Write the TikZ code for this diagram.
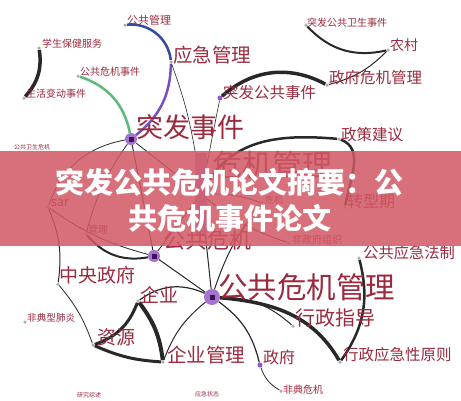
\documentclass[tikz,border=0pt]{standalone}
\usepackage{fontspec}
\newfontfamily\cjk{Noto Sans CJK SC}
\usetikzlibrary{positioning}

\definecolor{lblred}{RGB}{155,42,62}
\definecolor{linegray}{RGB}{40,40,40}
\definecolor{blueline}{RGB}{55,75,165}
\definecolor{purpleline}{RGB}{120,80,190}
\definecolor{greenline}{RGB}{95,185,125}
\definecolor{hubdark}{RGB}{60,20,80}
\definecolor{hubglow}{RGB}{150,90,200}
\definecolor{banner}{RGB}{208,88,100}

\begin{document}
\begin{tikzpicture}[x=1pt, y=-1pt,
    lbl/.style={anchor=west, inner sep=0pt, text=lblred, font=\cjk\fontsize{#1pt}{#1pt}\selectfont},
    lbl/.default=10,
    dot/.style={circle, fill=gray!65, inner sep=0pt, minimum size=3.5pt},
    pdot/.style={circle, fill=hubglow, inner sep=0pt, minimum size=5pt},
    hub/.style={circle, fill=hubglow!85, inner sep=0pt, minimum size=#1,
      path picture={\fill[hubdark] ([shift={(-2.5pt,-2.5pt)}]path picture bounding box.center) rectangle ++(5pt,5pt);}},
    hub/.default=12pt,
    link/.style={draw=linegray, line width=#1},
    link/.default=0.8pt]
      \useasboundingbox (0,0) rectangle (461,400);
      \fill[white] (0,0) rectangle (461,400);

      % Nodi centrali
      \node[hub] (h-tfsj) at (131,139) {};
      \node[hub] (h-ggwj) at (154,256) {};
      \node[hub=16pt] (h-ggwjgl) at (212,297) {};
      \node[rectangle, rounded corners=3pt, draw=hubdark!70, fill=hubglow!60,
        minimum width=11pt, minimum height=82pt] (h-wjgl) at (201,194) {};

      % Estremi
      \node[dot] (p-gggl) at (125,25) {};
      \node[dot] (p-xsbj) at (39,48) {};
      \node[dot] (p-shbd) at (24,98) {};
      \node[dot] (p-ggwjsj) at (78,76) {};
      \node[dot] (p-yjgl) at (171,62) {};
      \node[dot] (p-tfgwsj) at (306,25) {};
      \node[dot] (p-nc) at (388,50) {};
      \node[dot] (p-zfwjgl) at (327,85) {};
      \node[pdot] (p-tfggsj) at (220,98) {};
      \node[dot] (p-zcjy) at (339,139) {};
      \node[dot] (p-zxq) at (345,207) {};
      \node[dot] (p-wj) at (262,203) {};
      \node[dot] (p-fzfzz) at (289,243) {};
      \node[dot] (p-ggyjfz) at (359,258) {};
      \node[dot] (p-sar) at (48,207) {};
      \node[dot] (p-gl) at (86,234) {};
      \node[dot] (p-zyzf) at (58,284) {};
      \node[dot] (p-fdxfy) at (25,322) {};
      \node[dot] (p-zy) at (93,345) {};
      \node[dot] (p-qy) at (138,301) {};
      \node[dot] (p-qygl) at (163,362) {};
      \node[pdot] (p-zf) at (260,365) {};
      \node[dot] (p-fdwj) at (281,391) {};
      \node[dot] (p-xzzd) at (293,326) {};
      \node[dot] (p-xzyjx) at (340,362) {};

      % Collegamenti
      \draw[link=3.5pt] (p-xsbj) to[bend left=25] (p-shbd);
      \draw[link=2.5pt, draw=greenline] (p-ggwjsj) to[bend left=30] (h-tfsj);
      \draw[link=2.5pt, draw=blueline] (p-gggl) to[bend left=45] (p-yjgl);
      \draw[link=2.5pt, draw=purpleline] (p-yjgl) to[bend left=25] (h-tfsj);
      \draw[link=0.6pt] (p-yjgl) to[bend left=5] (h-wjgl);
      \draw[link=2pt] (p-tfgwsj) to[bend right=30] (p-nc);
      \draw[link=1pt] (p-nc) to[bend left=15] (p-zfwjgl);
      \draw[link=3.5pt] (p-tfggsj) to[bend left=35] (p-zfwjgl);
      \draw[link=0.6pt] (p-tfggsj) -- (h-wjgl);
      \draw[link=2.5pt] (h-wjgl) to[out=60, in=175] (p-zcjy);
      \draw[link=2.5pt] (p-zcjy) to[out=-20, in=80] (p-zxq);
      \draw[link] (h-tfsj) -- (h-wjgl);
      \draw[link=1pt] (h-tfsj) -- (h-ggwj);
      \draw[link] (h-tfsj) to[bend right=10] (p-gl);
      \draw[link] (h-tfsj) to[bend right=30] (p-sar);
      \draw[link] (p-sar) to[bend right=10] (h-ggwj);
      \draw[link=1pt] (p-sar) to[bend left=15] (p-zyzf);
      \draw[link=2pt] (p-gl) to[bend right=30] (h-ggwj);
      \draw[link] (h-wjgl) -- (h-ggwj);
      \draw[link] (h-wjgl) to[bend left=10] (p-wj);
      \draw[link] (h-wjgl) to[bend right=10] (p-fzfzz);
      \draw[link=1pt] (h-ggwj) -- (h-ggwjgl);
      \draw[link=1pt] (h-wjgl) -- (h-ggwjgl);
      \draw[link=1pt] (p-wj) to[bend right=10] (h-ggwjgl);
      \draw[link=0.8pt] (p-zyzf) to[bend left=10] (p-zy);
      \draw[link=3pt] (p-zy) to[bend right=25] (p-qy);
      \draw[link=4pt] (p-qy) to[bend left=15] (p-qygl);
      \draw[link=3pt] (p-zy) to[bend right=10] (p-qygl);
      \draw[link=1.2pt] (p-qy) to[bend left=30] (h-ggwjgl);
      \draw[link=1pt] (h-ggwjgl) to[bend right=15] (p-qygl);
      \draw[link=1.2pt] (h-ggwjgl) to[bend left=20] (p-zf);
      \draw[link=0.8pt] (p-zf) to[bend right=20] (p-fdwj);
      \draw[link=1pt] (h-ggwjgl) to[bend left=20] (p-xzzd);
      \draw[link=3.5pt] (h-ggwjgl) to[out=-5, in=120] (p-xzyjx);
      \draw[link=2.5pt] (p-ggyjfz) to[bend left=25] (p-xzyjx);

      % Etichette
      \node[lbl=11] (l-gggl) at (127,20) {公共管理};
      \node[lbl=10] (l-xsbj) at (42,44) {学生保健服务};
      \node[lbl=10] (l-shbd) at (26,94) {生活变动事件};
      \node[lbl=10] (l-ggwjsj) at (80,72) {公共危机事件};
      \node[lbl=19.5] (l-yjgl) at (173,55) {应急管理};
      \node[lbl=10] (l-tfgwsj) at (307,23) {突发公共卫生事件};
      \node[lbl=14] (l-nc) at (390,45) {农村};
      \node[lbl=15.5] (l-zfwjgl) at (329,78) {政府危机管理};
      \node[lbl=15.5] (l-tfggsj) at (223,93) {突发公共事件};
      \node[lbl=15.5] (l-zcjy) at (341,135) {政策建议};
      \node[lbl=16] (l-zxq) at (347,201) {转型期};
      \node[lbl=9] (l-wj) at (265,200) {危机};
      \node[lbl=10] (l-fzfzz) at (292,240) {非政府组织};
      \node[lbl=15.3] (l-ggyjfz) at (363,253) {公共应急法制};
      \node[lbl=14, font=\sffamily\fontsize{16pt}{16pt}\selectfont] (l-sar) at (51,203) {sar};
      \node[lbl=10] (l-gl) at (88,230) {管理};
      \node[lbl=19] (l-zyzf) at (59,275) {中央政府};
      \node[lbl=9.6] (l-fdxfy) at (27,318) {非典型肺炎};
      \node[lbl=19] (l-zy) at (97,337) {资源};
      \node[lbl=19] (l-qy) at (140,295) {企业};
      \node[lbl=19.5] (l-qygl) at (167,355) {企业管理};
      \node[lbl=16] (l-zf) at (263,357) {政府};
      \node[lbl=10] (l-fdwj) at (283,390) {非典危机};
      \node[lbl=20] (l-xzzd) at (295,318) {行政指导};
      \node[lbl=15.5] (l-xzyjx) at (343,355) {行政应急性原则};
      \node[lbl=27] (l-tfsj) at (136,127) {突发事件};
      \node[lbl=22] (l-ggwj) at (163,240) {公共危机};
      \node[lbl=30] (l-wjgl) at (212,165) {危机管理};
      \node[lbl=29.5] (l-ggwjgl) at (218,287) {公共危机管理};
      \node[lbl=6] (l-ggwsw) at (14,147) {公共卫生危机};
      \node[lbl=6] (l-yjzt) at (195,394) {应急状态};
      \node[lbl=6] (l-yjzs) at (77,395) {研究综述};

      % Fascia del titolo
      \fill[banner, opacity=.85] (0,151) rectangle (461,246);
      \node[align=center, text=white, inner sep=0pt,
        font=\cjk\bfseries\fontsize{29pt}{36pt}\selectfont] (titolo) at (230,200)
        {突发公共危机论文摘要：公\\共危机事件论文};
\end{tikzpicture}
\end{document}
